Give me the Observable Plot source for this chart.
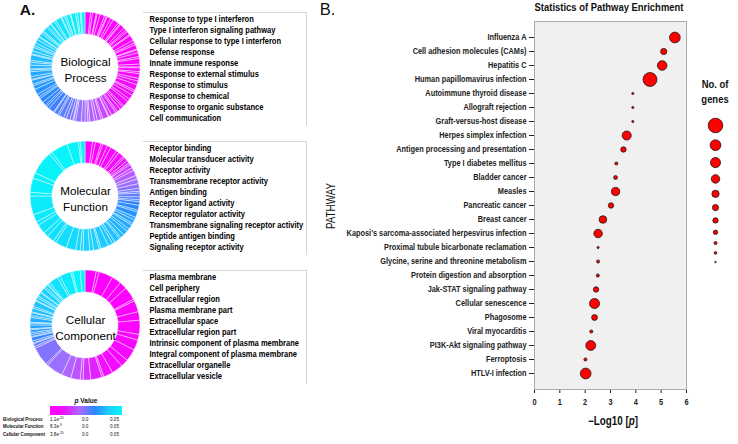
<!DOCTYPE html>
<html><head><meta charset="utf-8">
<script src="https://cdn.jsdelivr.net/npm/d3@7"></script>
<script src="https://cdn.jsdelivr.net/npm/@observablehq/plot@0.6"></script>
<style>
html,body{margin:0;padding:0;background:#fff;}
#root{position:relative;width:738px;height:444px;overflow:hidden;font-family:"Liberation Sans",Arial,sans-serif;color:#111;}
#root > svg, #root > div{position:absolute;}
.lbl{white-space:nowrap;line-height:1;color:#111;}
.lbl sup{font-size:70%;vertical-align:0.45em;line-height:0;}
</style></head><body><div id="root"></div>
<script>
// ---------------- DATA ----------------
// Panel B: KEGG pathway enrichment
const pathways = ["Influenza A","Cell adhesion molecules (CAMs)","Hepatitis C","Human papillomavirus infection","Autoimmune thyroid disease","Allograft rejection","Graft-versus-host disease","Herpes simplex infection","Antigen processing and presentation","Type I diabetes mellitus","Bladder cancer","Measles","Pancreatic cancer","Breast cancer","Kaposi's sarcoma-associated herpesvirus infection","Proximal tubule bicarbonate reclamation","Glycine, serine and threonine metabolism","Protein digestion and absorption","Jak-STAT signaling pathway","Cellular senescence","Phagosome","Viral myocarditis","PI3K-Akt signaling pathway","Ferroptosis","HTLV-I infection"];
const negLog10P = [5.54,5.10,5.04,4.56,3.88,3.88,3.88,3.64,3.51,3.23,3.20,3.20,3.02,2.70,2.51,2.51,2.51,2.50,2.43,2.37,2.37,2.24,2.22,2.01,2.02];
const geneCounts = [24,8,19,40,1,1,1,17,6,2,3,14,6,12,15,1,2,2,6,21,7,2,20,2,24];
const sizeLegendValues = [44,24,21,15,11,8,6,4,2,1.5,0.5];
const xTicks = [0,1,2,3,4,5,6];

// Panel A: GO terms
const bpTerms = ["Response to type I interferon","Type I interferon signaling pathway","Cellular response to type I interferon","Defense response","Innate immune response","Response to external stimulus","Response to stimulus","Response to chemical","Response to organic substance","Cell communication"];
const mfTerms = ["Receptor binding","Molecular transducer activity","Receptor activity","Transmembrane receptor activity","Antigen binding","Receptor ligand activity","Receptor regulator activity","Transmembrane signaling receptor activity","Peptide antigen binding","Signaling receptor activity"];
const ccTerms = ["Plasma membrane","Cell periphery","Extracellular region","Plasma membrane part","Extracellular space","Extracellular region part","Intrinsic component of plasma membrane","Integral component of plasma membrane","Extracellular organelle","Extracellular vesicle"];
const goLabels = ["Biological\nProcess","Molecular\nFunction","Cellular\nComponent"];

// donut segments (relative size, p value), clockwise from 12 o'clock
const bpSize = [6,2,4,1,3,5,2,1,4,3,6,2,1,5,3,2,4,1,6,3,2,5,1,3,4,2,6,3,1,4,2,5,3,4,6,2,4,5,3,6,2,3,
  4,2,5,3,1,6,2,4,3,5,2,3,4,6,2,1,3,4,
  3,5,2,4,1,6,3,2,4,5,2,3,6,4,
  2,4,1,3,5,2,1,4,3,2,6,1,3,4,2,3,4,
  3,1,4,2,1,5,2,3,1,4,2,6,1,3,2,4,1,5,2,3,1,4];
const bpP = [0.0000,0.0001,0.0001,0.0002,0.0003,0.0004,0.0004,0.0005,0.0006,0.0008,0.0009,0.0010,0.0012,0.0013,0.0015,0.0017,0.0018,0.0020,0.0022,0.0025,0.0027,0.0029,0.0031,0.0034,0.0036,0.0039,0.0041,0.0044,0.0046,0.0049,0.0052,0.0055,0.0058,0.0061,0.0064,0.0068,0.0071,0.0075,0.0079,0.0083,0.0088,0.0093,
  0.0110,0.0125,0.0138,0.0150,0.0158,0.0167,0.0175,0.0182,0.0190,0.0197,0.0204,0.0210,0.0217,0.0224,0.0231,0.0238,0.0246,0.0254,
  0.0262,0.0270,0.0276,0.0282,0.0288,0.0293,0.0298,0.0303,0.0308,0.0313,0.0318,0.0323,0.0328,0.0334,
  0.0340,0.0345,0.0349,0.0353,0.0358,0.0362,0.0366,0.0371,0.0375,0.0380,0.0384,0.0389,0.0393,0.0398,0.0402,0.0407,0.0411,
  0.0416,0.0420,0.0424,0.0428,0.0432,0.0436,0.0440,0.0444,0.0448,0.0452,0.0456,0.0460,0.0464,0.0468,0.0472,0.0476,0.0480,0.0484,0.0488,0.0492,0.0496,0.0500];
const mfSize = [8,3,6,2,5,4,7,3,6,2,4, 3,2,4,3, 6,4,5,5, 3,2,4,3,2,4, 5,2,6,3,4,2,5,3,5, 4,2,6,3,5,8,2,6,4,7,3,5,10, 12,3,8,5,10,4,8, 20,4,15,6,25,3,18,12,2,5];
const mfP = [0.0000,0.0005,0.0010,0.0015,0.0020,0.0030,0.0040,0.0050,0.0060,0.0070,0.0080, 0.0110,0.0130,0.0150,0.0170, 0.0190,0.0210,0.0220,0.0230, 0.0250,0.0260,0.0270,0.0280,0.0290,0.0300, 0.0310,0.0320,0.0330,0.0340,0.0350,0.0355,0.0360,0.0365,0.0370, 0.0380,0.0385,0.0390,0.0395,0.0400,0.0405,0.0410,0.0415,0.0420,0.0425,0.0430,0.0435,0.0440, 0.0445,0.0450,0.0455,0.0460,0.0465,0.0470,0.0475, 0.0480,0.0485,0.0490,0.0490,0.0495,0.0495,0.0500,0.0500,0.0500,0.0500];
const ccSize = [12,3,15,10,8,14,2,12,9,15,6,11,13,8,12, 10,2,12,8,3,10,10, 18,2,20, 2,3,1,2,4,1,2,2, 3,1,4,2,1,5,2,3,1,4,2,6,1,3,2,4,1,5,2,3,1,2, 10,3,12,2,8,5];
const ccP = [0.0000,0.0001,0.0002,0.0005,0.0008,0.0010,0.0015,0.0020,0.0025,0.0030,0.0035,0.0040,0.0050,0.0060,0.0070, 0.0090,0.0105,0.0120,0.0140,0.0160,0.0180,0.0200, 0.0220,0.0230,0.0240, 0.0260,0.0270,0.0280,0.0290,0.0300,0.0310,0.0320,0.0330, 0.0340,0.0345,0.0350,0.0355,0.0360,0.0365,0.0370,0.0375,0.0380,0.0385,0.0390,0.0395,0.0400,0.0405,0.0410,0.0415,0.0420,0.0425,0.0430,0.0435,0.0440,0.0450, 0.0460,0.0470,0.0480,0.0490,0.0500,0.0500];

// p-value colour scale + legend
const pColorDomain = [0, 0.010, 0.021, 0.031, 0.040, 0.050];
const pColorRange = ["#ff00ff","#f010ff","#a86cff","#2a86ff","#20c8ff","#08f4fa"];
const pLegendRows = ["Biological Process","Molecular Function","Cellular Component"];
const pLegendMin = ["1.1e<sup>-20</sup>","8.3e<sup>-9</sup>","3.8e<sup>-20</sup>"];
const pLegendMid = ["0.0","0.0","0.0"];
const pLegendMax = ["0.05","0.05","0.05"];

// ---------------- LAYOUT / STYLE ----------------
const root = document.getElementById("root");
const NARROW = '"Liberation Sans",Arial,sans-serif';   // condensed horizontally below
const REG = '"Liberation Sans",Arial,sans-serif';
const SQUEEZE = 0.82;
const DONUT = {cx: 85, cy: 65, r0: 33, r1: 55};
const colorSpec = {type: "linear", domain: pColorDomain, range: pColorRange, interpolate: "rgb"};

function place(el, left, top) { el.style.left = left + "px"; el.style.top = top + "px"; root.appendChild(el); return el; }
function label(html, x, y, o = {}) {
  const d = document.createElement("div");
  d.className = "lbl"; d.innerHTML = html;
  const sq = o.squeeze === false ? 1 : SQUEEZE;
  const start = o.anchor === "start";
  Object.assign(d.style, {
    fontSize: (o.size || 10) + "px", fontWeight: o.weight || "normal", fontFamily: o.family || NARROW,
    transformOrigin: start ? "0 50%" : "50% 50%",
    transform: `translate(${start ? "0" : "-50%"},-50%)` + (o.rotate ? ` rotate(${o.rotate}deg)` : "") + ` scaleX(${sq})`
  });
  return place(d, x, y);
}
// horizontally condense SVG texts about their anchor point (emulates a narrow face)
function condense(texts, s = SQUEEZE) {
  texts.forEach(t => {
    const ax = parseFloat(t.getAttribute("x")) || 0, ay = parseFloat(t.getAttribute("y")) || 0;
    const old = t.getAttribute("transform") || "";
    t.setAttribute("transform", `${old} translate(${ax},${ay}) scale(${s},1) translate(${-ax},${-ay})`);
  });
}

function donutRender(index, scales, values) {
  const arc = d3.arc().innerRadius(DONUT.r0).outerRadius(DONUT.r1);
  const g = d3.create("svg:g").attr("transform", `translate(${DONUT.cx},${DONUT.cy})`);
  g.selectAll("path").data(index).join("path")
    .attr("d", i => arc({startAngle: values.x1[i], endAngle: values.x2[i]}))
    .attr("fill", i => values.fill[i])
    .attr("stroke", "#fff").attr("stroke-width", 0.45);
  return g.node();
}

function goPanel(sizes, ps, terms, name) {
  const segs = sizes.map((s, i) => ({size: s, p: ps[i]}));
  const svg = Plot.plot({
    width: 320, height: 129, marginLeft: 143, marginRight: 14, marginTop: 10, marginBottom: 6,
    style: {background: "transparent", overflow: "visible"},
    x: {domain: [0, 1], range: [0, 2 * Math.PI], axis: null},
    y: {domain: terms, range: [15, 118], padding: 0, axis: null},
    color: colorSpec,
    marks: [
      Plot.frame({anchor: "top", stroke: "#d6d6d6"}),
      Plot.frame({anchor: "right", stroke: "#d6d6d6"}),
      Plot.barX(segs, Plot.stackX({x: "size", fill: "p", offset: "normalize", render: donutRender})),
      Plot.text(terms, {y: d => d, text: d => d, frameAnchor: "left", dx: 6, textAnchor: "start",
        fontWeight: "bold", fontSize: 9.2, fontFamily: NARROW, fill: "#000"}),
      Plot.text([name], {frameAnchor: "left", dx: DONUT.cx - 143, dy: 0, textAnchor: "middle",
        lineHeight: 1.33, fontSize: 11.7, fontFamily: REG, fill: "#000"})
    ]
  });
  condense(svg.querySelectorAll('[font-weight="bold"] text'));
  return svg;
}

// ---------------- PANEL A ----------------
label("A.", 27.5, 9.5, {size: 15.5, weight: "bold", family: REG, squeeze: false});
place(goPanel(bpSize, bpP, bpTerms, goLabels[0]), 0, 2);
place(goPanel(mfSize, mfP, mfTerms, goLabels[1]), 0, 131);
place(goPanel(ccSize, ccP, ccTerms, goLabels[2]), 0, 260);

// p-value ramp legend
label("<i>p</i> Value", 85.7, 400.7, {size: 8, weight: "bold"});
const ramp = document.createElement("div");
const dmax = pColorDomain[pColorDomain.length - 1];
ramp.style.width = "72px"; ramp.style.height = "9px";
ramp.style.background = `linear-gradient(to right, ${pColorRange.map((c, i) => `${c} ${pColorDomain[i] / dmax * 100}%`).join(",")})`;
place(ramp, 50, 405.7);
const rowY = [420.3, 427.3, 434.7];
pLegendRows.forEach((r, i) => {
  label(r, 3.3, rowY[i], {size: 5.4, weight: "bold", anchor: "start"});
  label(pLegendMin[i], 50, rowY[i], {size: 5.6, anchor: "start"});
  label(pLegendMid[i], 81.7, rowY[i], {size: 5.6, anchor: "start"});
  label(pLegendMax[i], 110, rowY[i], {size: 5.6, anchor: "start"});
});

// ---------------- PANEL B ----------------
label("B.", 327.5, 9.2, {size: 16.5, family: REG, squeeze: false});
const rSpec = {domain: [0, 44], range: [0, 1.1 * Math.sqrt(44)]};
const dots = pathways.map((name, i) => ({name, lp: negLog10P[i], genes: geneCounts[i]}));
const chart = Plot.plot({
  width: 418, height: 444, marginLeft: 214, marginRight: 52, marginTop: 21, marginBottom: 55,
  style: {fontFamily: NARROW, fontWeight: "bold", fontSize: "9px", color: "#222", background: "transparent", overflow: "visible"},
  x: {domain: [0, 6], ticks: xTicks, tickFormat: "d", tickSize: 4, tickPadding: 5, label: null},
  y: {domain: pathways, padding: 0.45, tickSize: 5, tickPadding: 3, label: null},
  r: rSpec,
  marks: [
    Plot.frame({fill: "#f0f0f0", stroke: "#ababab"}),
    Plot.dot(dots, {x: "lp", y: "name", r: "genes", fill: "#ff0000", stroke: "#1a1a1a", strokeWidth: 0.8})
  ]
});
condense(chart.querySelectorAll("text"));
place(chart, 320, 0);
label("Statistics of Pathway Enrichment", 608.5, 8.4, {size: 11.5, weight: "bold"});
label("PATHWAY", 331, 206, {size: 12, rotate: -90});
label("&minus;Log10 [<i>p</i>]", 612.5, 421, {size: 12, weight: "bold"});

// size legend
label("No. of", 715, 85, {size: 11.5, weight: "bold"});
label("genes", 715, 99.5, {size: 11.5, weight: "bold"});
const rs = Plot.scale({r: rSpec});
let yAcc = 0;
const legendDots = sizeLegendValues.map((g, i) => {
  const r = rs.apply(g);
  if (i === 0) yAcc = 15; else yAcc += rs.apply(sizeLegendValues[i - 1]) + r + 0.8 + 6.2;
  return {g, y: yAcc};
});
const legendPlot = Plot.plot({
  width: 40, height: 170, margin: 0,
  style: {background: "transparent", overflow: "visible"},
  x: {axis: null}, y: {type: "identity", axis: null},
  r: rSpec,
  marks: [Plot.dot(legendDots, {y: "y", r: "g", fill: "#ff0000", stroke: "#1a1a1a", strokeWidth: 0.8})]
});
place(legendPlot, 695, 110);
</script></body></html>
